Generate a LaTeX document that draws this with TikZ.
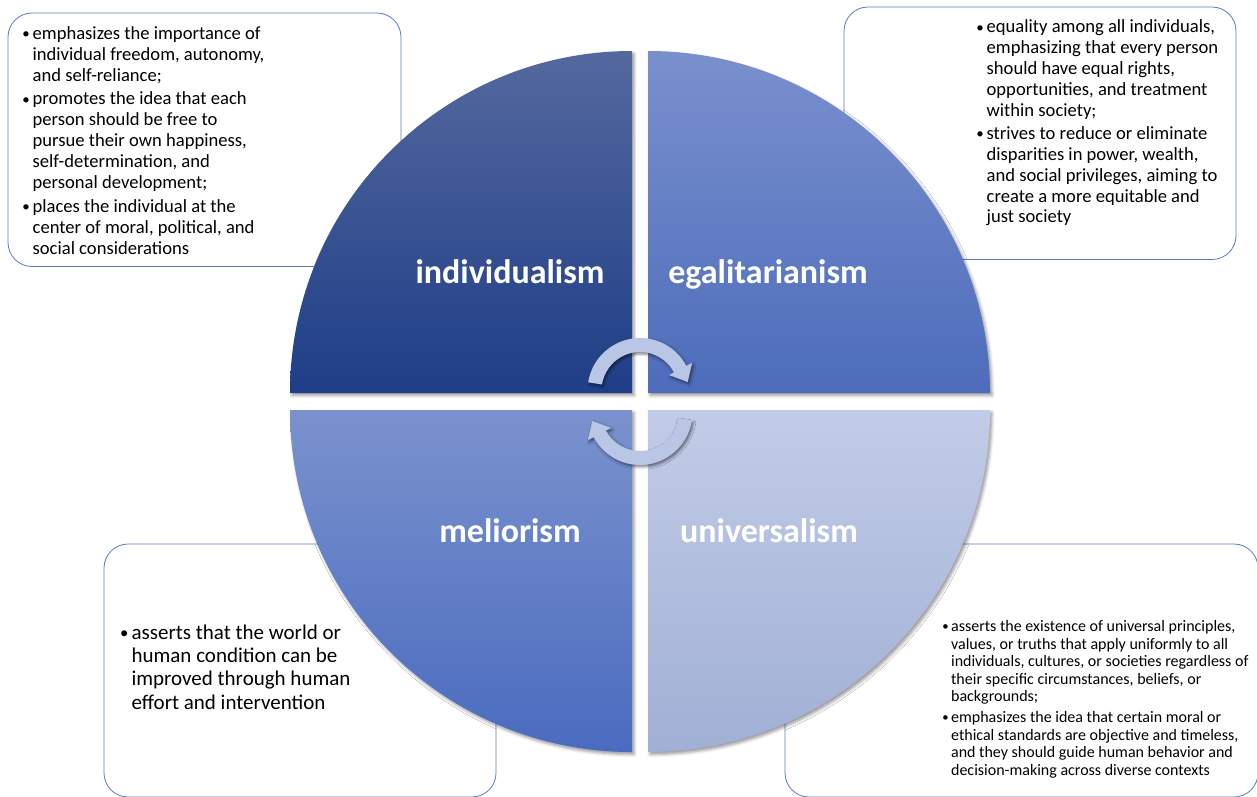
\documentclass[tikz,border=0pt]{standalone}
\usepackage{fontspec}
\setmainfont{Carlito}
\usepackage{graphicx}
\usepackage{tikz}
\usetikzlibrary{positioning, calc, shadows.blur}

\definecolor{boxblue}{RGB}{91,121,196}
\definecolor{indtop}{RGB}{84,104,158}
\definecolor{indbot}{RGB}{30,62,135}
\definecolor{egatop}{RGB}{122,144,206}
\definecolor{egabot}{RGB}{76,108,186}
\definecolor{meltop}{RGB}{122,146,205}
\definecolor{melbot}{RGB}{74,107,191}
\definecolor{unitop}{RGB}{194,204,232}
\definecolor{unibot}{RGB}{160,175,212}
\definecolor{cyclefill}{RGB}{185,198,229}

% bullet and hanging indent for the notes
\newcommand{\bul}{\makebox[0.6em][l]{\hspace{0.05em}\raisebox{0.04em}{\scalebox{0.8}{\textbullet}}}}
\newcommand{\ind}{\hspace*{0.6em}}

\begin{document}
\begin{tikzpicture}[
  x=1pt, y=-1pt,
  every node/.style={inner sep=0pt, outer sep=0pt},
  infobox/.style={draw=boxblue, line width=0.8pt, rounded corners=24pt, fill=white},
  notetext/.style={anchor=base west, text=black},
  quadlabel/.style={anchor=base, text=white, font=\fontsize{34}{40}\selectfont\bfseries},
  quadshadow/.style={blur shadow={shadow xshift=2pt, shadow yshift=-2.5pt,
                     shadow blur radius=3pt, shadow opacity=40}},
  cyclearrow/.style={fill=cyclefill, blur shadow={shadow xshift=1.5pt, shadow yshift=-2pt,
                     shadow blur radius=2.5pt, shadow opacity=50}}
]
\useasboundingbox (0,0) rectangle (1257,796);

% note boxes (behind the circle)
\node[infobox, minimum width=393pt, minimum height=253.5pt] (indbox) at (204.5,139.75) {};
\node[infobox, minimum width=392pt, minimum height=252.5pt] (egabox) at (1040,133.25) {};
\node[infobox, minimum width=392pt, minimum height=253pt]   (melbox) at (300,670.5) {};
\node[infobox, minimum width=473pt, minimum height=253pt]   (unibox) at (1021.5,670.5) {};

\node[notetext, font=\fontsize{18.6}{21}\selectfont] (indtxt)
  at ([shift={(13.5,26.3)}]indbox.north west) {%
  \begin{tabular}[t]{@{}l@{}}
  \bul emphasizes the importance of\\
  \ind individual freedom, autonomy,\\
  \ind and self-reliance;\\[2.5pt]
  \bul promotes the idea that each\\
  \ind person should be free to\\
  \ind pursue their own happiness,\\
  \ind self-determination, and\\
  \ind personal development;\\[2.5pt]
  \bul places the individual at the\\
  \ind center of moral, political, and\\
  \ind social considerations
  \end{tabular}};

\node[notetext, font=\fontsize{18.6}{20.8}\selectfont] (egatxt)
  at ([shift={(131.5,25.8)}]egabox.north west) {%
  \begin{tabular}[t]{@{}l@{}}
  \bul equality among all individuals,\\
  \ind emphasizing that every person\\
  \ind should have equal rights,\\
  \ind opportunities, and treatment\\
  \ind within society;\\[2.9pt]
  \bul strives to reduce or eliminate\\
  \ind disparities in power, wealth,\\
  \ind and social privileges, aiming to\\
  \ind create a more equitable and\\
  \ind just society
  \end{tabular}};

\node[notetext, font=\fontsize{21}{23.3}\selectfont] (meltxt)
  at ([shift={(15,95.3)}]melbox.north west) {%
  \begin{tabular}[t]{@{}l@{}}
  \bul asserts that the world or\\
  \ind human condition can be\\
  \ind improved through human\\
  \ind effort and intervention
  \end{tabular}};

\node[notetext, font=\fontsize{16}{17.5}\selectfont] (unitxt)
  at ([shift={(156.5,87.5)}]unibox.north west) {%
  \begin{tabular}[t]{@{}l@{}}
  \bul asserts the existence of universal principles,\\
  \ind values, or truths that apply uniformly to all\\
  \ind individuals, cultures, or societies regardless of\\
  \ind their specific circumstances, beliefs, or\\
  \ind backgrounds;\\[3.5pt]
  \bul emphasizes the idea that certain moral or\\
  \ind ethical standards are objective and timeless,\\
  \ind and they should guide human behavior and\\
  \ind decision-making across diverse contexts
  \end{tabular}};

% four quadrants of the circle
\shade[quadshadow, top color=indtop, bottom color=indbot]
  (632,393) -- (290,393) arc[start angle=180, end angle=270, radius=342] -- cycle;
\shade[quadshadow, top color=egatop, bottom color=egabot]
  (648,393) -- (648,51) arc[start angle=270, end angle=360, radius=342] -- cycle;
\shade[quadshadow, top color=meltop, bottom color=melbot]
  (632,410) -- (632,752) arc[start angle=90, end angle=180, radius=342] -- cycle;
\shade[quadshadow, top color=unitop, bottom color=unibot]
  (648,410) -- (990,410) arc[start angle=0, end angle=90, radius=342] -- cycle;

\node[quadlabel] (ind) at (510,283) {individualism};
\node[quadlabel] (ega) at (768,283) {egalitarianism};
\node[quadlabel] (mel) at (510,542) {meliorism};
\node[quadlabel] (uni) at (769,542) {universalism};

% cycle arrows in the middle
\foreach \cy/\rot in {390.5/0, 412.5/180} {
  \begin{scope}[shift={(640,\cy)}, y=1pt, rotate=\rot]
    \path[cyclearrow]
      (171:52.5) arc[start angle=171, end angle=28, radius=52.5]
      -- (28:59) -- (10:48.5) -- (28:33) -- (28:38.5)
      arc[start angle=28, end angle=171, radius=38.5] -- cycle;
  \end{scope}
}
\end{tikzpicture}
\end{document}
